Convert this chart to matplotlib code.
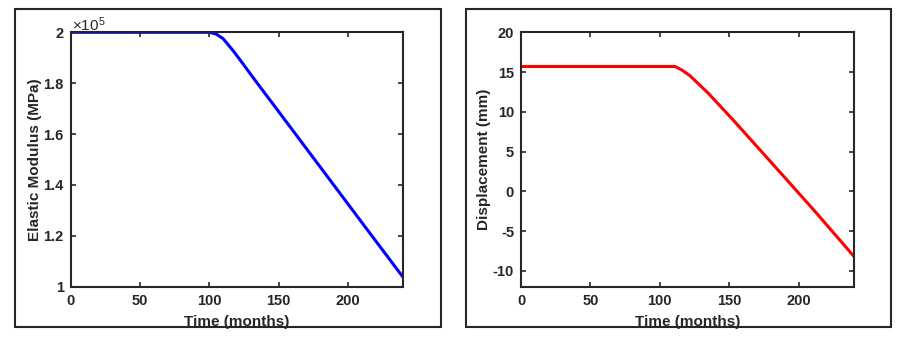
import numpy as np
import matplotlib
matplotlib.use("Agg")
import matplotlib.pyplot as plt
import matplotlib.ticker as mticker
from matplotlib.patches import Rectangle

# ---- data ----
time_mod = [0, 100, 105, 110, 117.6, 125, 132, 149, 165.8, 189.9, 214, 240]
modulus_mpa = [2.0e5, 2.0e5, 1.993e5, 1.975e5, 1.925e5, 1.871e5, 1.819e5,
               1.696e5, 1.574e5, 1.399e5, 1.224e5, 1.036e5]

time_disp = [0, 111, 116, 121.8, 128, 135, 153, 172.3, 189, 213, 240]
disp_mm = [15.7, 15.7, 15.25, 14.54, 13.5, 12.33, 8.95, 5.2, 1.95, -2.75, -8.2]

x_ticks = [0, 50, 100, 150, 200]
mod_ticks = [1, 1.2, 1.4, 1.6, 1.8, 2]
disp_ticks = [-10, -5, 0, 5, 10, 15, 20]

DARK = "#262626"
plt.rcParams["font.family"] = ["Liberation Sans", "DejaVu Sans"]
plt.rcParams["font.weight"] = "bold"
plt.rcParams["mathtext.default"] = "regular"

W, H = 906, 337
fig = plt.figure(figsize=(W / 100, H / 100), dpi=100)


def frac_box(x0, y0, x1, y1):
    # pixel box (top-left origin) -> figure fractions
    return [x0 / W, 1 - y1 / H, (x1 - x0) / W, (y1 - y0) / H]


def style(ax):
    for s in ax.spines.values():
        s.set_linewidth(1.5)
        s.set_color(DARK)
    ax.tick_params(direction="in", top=True, right=True, length=3.5,
                   width=1.2, colors=DARK, labelsize=10.5, pad=5)
    for lab in ax.get_xticklabels() + ax.get_yticklabels():
        lab.set_fontweight("bold")
    ax.set_xlim(0, 240)
    ax.set_xticks(x_ticks)
    ax.xaxis.set_major_formatter(mticker.FormatStrFormatter("%g"))
    ax.yaxis.set_major_formatter(mticker.FormatStrFormatter("%g"))
    ax.set_xlabel("Time (months)", fontsize=11, fontweight="bold", color=DARK)
    ax.xaxis.set_label_coords(0.5, -0.112)


# ── left: elastic modulus ──
ax1 = fig.add_axes(frac_box(70.7, 32.3, 403.3, 286.7))
ax1.plot(time_mod, np.array(modulus_mpa) / 1e5, color="#0000ff", lw=2.2,
         solid_capstyle="butt")
ax1.set_ylim(1, 2)
ax1.set_yticks(mod_ticks)
style(ax1)
ax1.set_ylabel("Elastic Modulus (MPa)", fontsize=11, fontweight="bold", color=DARK)
ax1.yaxis.set_label_coords(-0.086, 0.5)
ax1.text(0.003, 0.995, r"$\times10^{5}$", transform=ax1.transAxes,
         fontsize=11, fontweight="normal", color=DARK, ha="left", va="bottom")

# ── right: displacement ──
ax2 = fig.add_axes(frac_box(521, 32.3, 854, 286.7))
ax2.plot(time_disp, disp_mm, color="#ff0000", lw=2.2, solid_capstyle="butt")
ax2.set_ylim(-12, 20)
ax2.set_yticks(disp_ticks)
style(ax2)
ax2.set_ylabel("Displacement (mm)", fontsize=11, fontweight="bold", color=DARK)
ax2.yaxis.set_label_coords(-0.09, 0.5)

# outer frames around each panel
for (x0, x1) in [(15, 440.7), (466, 891)]:
    b = frac_box(x0, 9.3, x1, 326.7)
    fig.patches.append(Rectangle((b[0], b[1]), b[2], b[3], transform=fig.transFigure,
                                 fill=False, edgecolor=DARK, lw=1.5, zorder=5))

fig.savefig("out.png", dpi=100)
